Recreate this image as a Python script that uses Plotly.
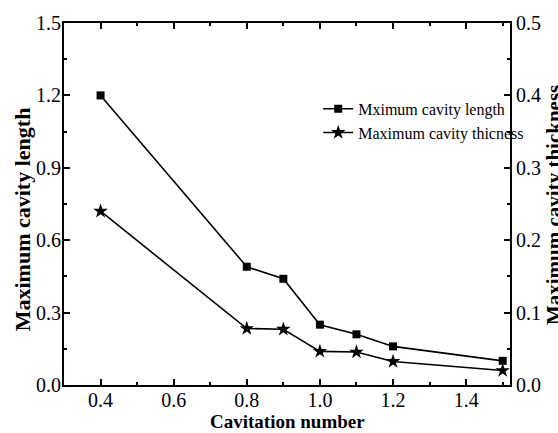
import plotly.graph_objects as go

cav = [0.4, 0.8, 0.9, 1.0, 1.1, 1.2, 1.5]
length = [1.20, 0.49, 0.44, 0.25, 0.21, 0.16, 0.10]
thick = [0.240, 0.078, 0.077, 0.0465, 0.0455, 0.0325, 0.020]

FONT = "Liberation Serif"

fig = go.Figure()
fig.add_trace(go.Scatter(x=cav, y=length, mode="lines+markers", name="Mximum cavity length",
                         line=dict(color="black", width=1.6),
                         marker=dict(symbol="square", size=8, color="black")))
fig.add_trace(go.Scatter(x=cav, y=thick, mode="lines+markers", name="Maximum cavity thicness",
                         yaxis="y2",
                         line=dict(color="black", width=1.6),
                         marker=dict(symbol="star", size=11, color="black")))

axcommon = dict(showline=True, linecolor="black", linewidth=2, ticks="inside",
                ticklen=6, tickwidth=1.5, tickcolor="black", showgrid=False, zeroline=False,
                tickfont=dict(family=FONT, size=20, color="black"))

fig.update_layout(
    width=558, height=433,
    margin=dict(l=64, r=48, t=16, b=48),
    paper_bgcolor="white", plot_bgcolor="white",
    showlegend=True,
    legend=dict(x=0.57, y=0.81, xanchor="left", yanchor="top", bgcolor="rgba(0,0,0,0)",
                font=dict(family=FONT, size=16, color="black"), tracegroupgap=0,
                itemwidth=30),
    xaxis=dict(range=[0.3, 1.52], dtick=0.2, tick0=0.4, mirror="ticks", ticklabelstandoff=-4,
               minor=dict(ticks="inside", ticklen=3, dtick=0.1, tick0=0.4, tickcolor="black", tickwidth=1.5),
               tickformat=".1f", **axcommon),
    yaxis=dict(range=[0, 1.5], dtick=0.3, tick0=0, tickformat=".1f", ticklabelstandoff=-3,
               minor=dict(ticks="inside", ticklen=3, dtick=0.15, tickcolor="black", tickwidth=1.5),
               **axcommon),
    yaxis2=dict(range=[0, 0.5], dtick=0.1, tick0=0, tickformat=".1f", overlaying="y", side="right",
                minor=dict(ticks="inside", ticklen=3, dtick=0.05, tickcolor="black", tickwidth=1.5),
                **axcommon),
    annotations=[
        dict(text="<b>Cavitation number</b>", xref="paper", yref="paper", x=0.5, y=-0.1,
             xanchor="center", yanchor="middle", showarrow=False,
             font=dict(family=FONT, size=19, color="black")),
        dict(text="<b>Maximum cavity length</b>", xref="paper", yref="paper", x=-0.094, y=0.458,
             xanchor="center", yanchor="middle", showarrow=False, textangle=-90,
             font=dict(family=FONT, size=22, color="black")),
        dict(text="<b>Maximum cavity thickness</b>", xref="paper", yref="paper", x=1.1, y=0.496,
             xanchor="center", yanchor="middle", showarrow=False, textangle=-90,
             font=dict(family=FONT, size=21, color="black")),
    ],
)

fig.write_html("out.html")
